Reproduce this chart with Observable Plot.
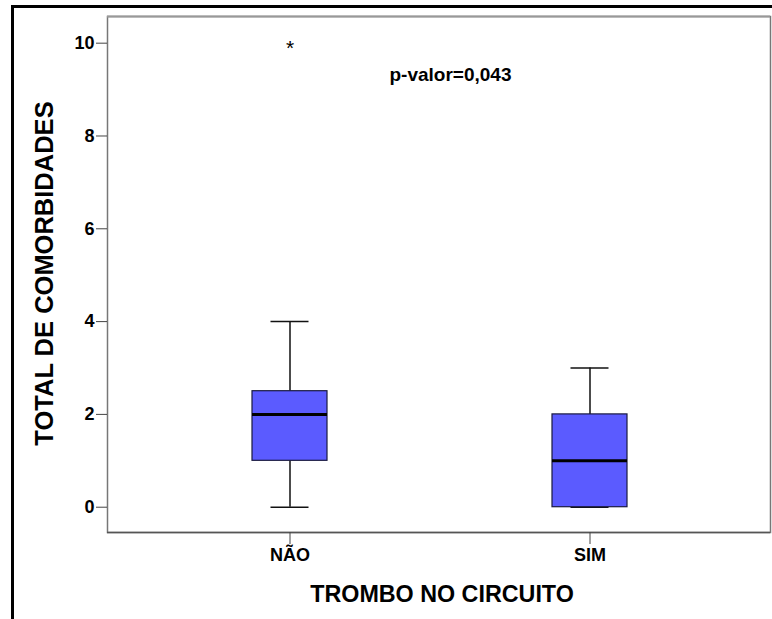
<!DOCTYPE html>
<html>
<head>
<meta charset="utf-8">
<script src="https://cdn.jsdelivr.net/npm/d3@7"></script>
<script src="https://cdn.jsdelivr.net/npm/@observablehq/plot@0.6"></script>
<style>
  html, body { margin: 0; padding: 0; background: #fff; }
  #wrap { position: relative; width: 772px; height: 619px; overflow: hidden; }
  #border { position: absolute; left: 11px; top: 5px; right: -5px; bottom: -5px;
            border-top: 3px solid #000; border-left: 3px solid #000; }
  #chart { position: absolute; left: 0; top: 0; }
  #chart svg text { font-family: Arial, "Liberation Sans", sans-serif; }
</style>
</head>
<body>
<div id="wrap"><div id="border"></div><div id="chart"></div></div>
<script>
// ---- data ----
const groups = ["NÃO", "SIM"];
const lowerWhisker = [0, 0];
const q1 = [1, 0];
const median = [2, 1];
const q3 = [2.5, 2];
const upperWhisker = [4, 3];
const outlierGroups = ["NÃO"];
const outlierValues = [10];
const yTicks = [0, 2, 4, 6, 8, 10];
const yLabel = "TOTAL DE COMORBIDADES";
const xLabel = "TROMBO NO CIRCUITO";
const annotation = "p-valor=0,043";

const boxes = groups.map((g, i) => ({
  group: g, lo: lowerWhisker[i], q1: q1[i], med: median[i], q3: q3[i], hi: upperWhisker[i]
}));
const outliers = outlierGroups.map((g, i) => ({ group: g, value: outlierValues[i] }));
const yDomain = [-0.545, 10.575];

const chart = Plot.plot({
  width: 772,
  height: 619,
  marginTop: 16,
  marginLeft: 107,
  marginRight: 2,
  marginBottom: 87,
  style: { background: "transparent", color: "#000", fontFamily: "Arial, 'Liberation Sans', sans-serif" },
  x: { type: "band", domain: groups, paddingInner: 0.75, paddingOuter: 0.48, align: 0.505 },
  y: { domain: yDomain },
  marks: [
    Plot.frame({ stroke: "#777", strokeWidth: 1.5 }),
    Plot.ruleY([yDomain[1]], { stroke: "#999", strokeWidth: 2 }),
    Plot.ruleY([yDomain[0]], { stroke: "#555", strokeWidth: 1.5 }),
    // whiskers
    Plot.ruleX(boxes, { x: "group", y1: "lo", y2: "q1", stroke: "#111", strokeWidth: 1.5 }),
    Plot.ruleX(boxes, { x: "group", y1: "q3", y2: "hi", stroke: "#111", strokeWidth: 1.5 }),
    // caps
    Plot.tickY(boxes, { x: "group", y: "lo", stroke: "#111", strokeWidth: 1.5, insetLeft: 18.5, insetRight: 18.5 }),
    Plot.tickY(boxes, { x: "group", y: "hi", stroke: "#111", strokeWidth: 1.5, insetLeft: 18.5, insetRight: 18.5 }),
    // boxes
    Plot.barY(boxes, { x: "group", y1: "q1", y2: "q3", fill: "#5b5bff", stroke: "#1a1a40", strokeWidth: 1.2 }),
    // medians
    Plot.tickY(boxes, { x: "group", y: "med", stroke: "#000", strokeWidth: 3 }),
    // outliers
    Plot.text(outliers, { x: "group", y: "value", text: () => "*", fontSize: 21, dy: 5, fill: "#000" }),
    // axes
    Plot.axisY(yTicks, { tickSize: 11, tickPadding: 2, fontSize: 18, fontWeight: "bold", stroke: "#444", fill: "#000", label: null }),
    Plot.axisX({ tickSize: 12, tickPadding: 4, fontSize: 18, fontWeight: "bold", stroke: "#444", fill: "#000", label: null }),
    // labels
    Plot.text([yLabel], { frameAnchor: "left", textAnchor: "middle", dx: -63, dy: -1, rotate: -90, fontSize: 25.5, fontWeight: "bold", fill: "#000", lineAnchor: "middle" }),
    Plot.text([xLabel], { frameAnchor: "bottom", dx: 3, dy: 62, fontSize: 23.3, fontWeight: "bold", fill: "#000", lineAnchor: "middle" }),
    Plot.text([annotation], { frameAnchor: "top", dx: 11.5, dy: 58, fontSize: 19, fontWeight: "bold", fill: "#000", lineAnchor: "middle" })
  ]
});
document.getElementById("chart").appendChild(chart);
</script>
</body>
</html>
